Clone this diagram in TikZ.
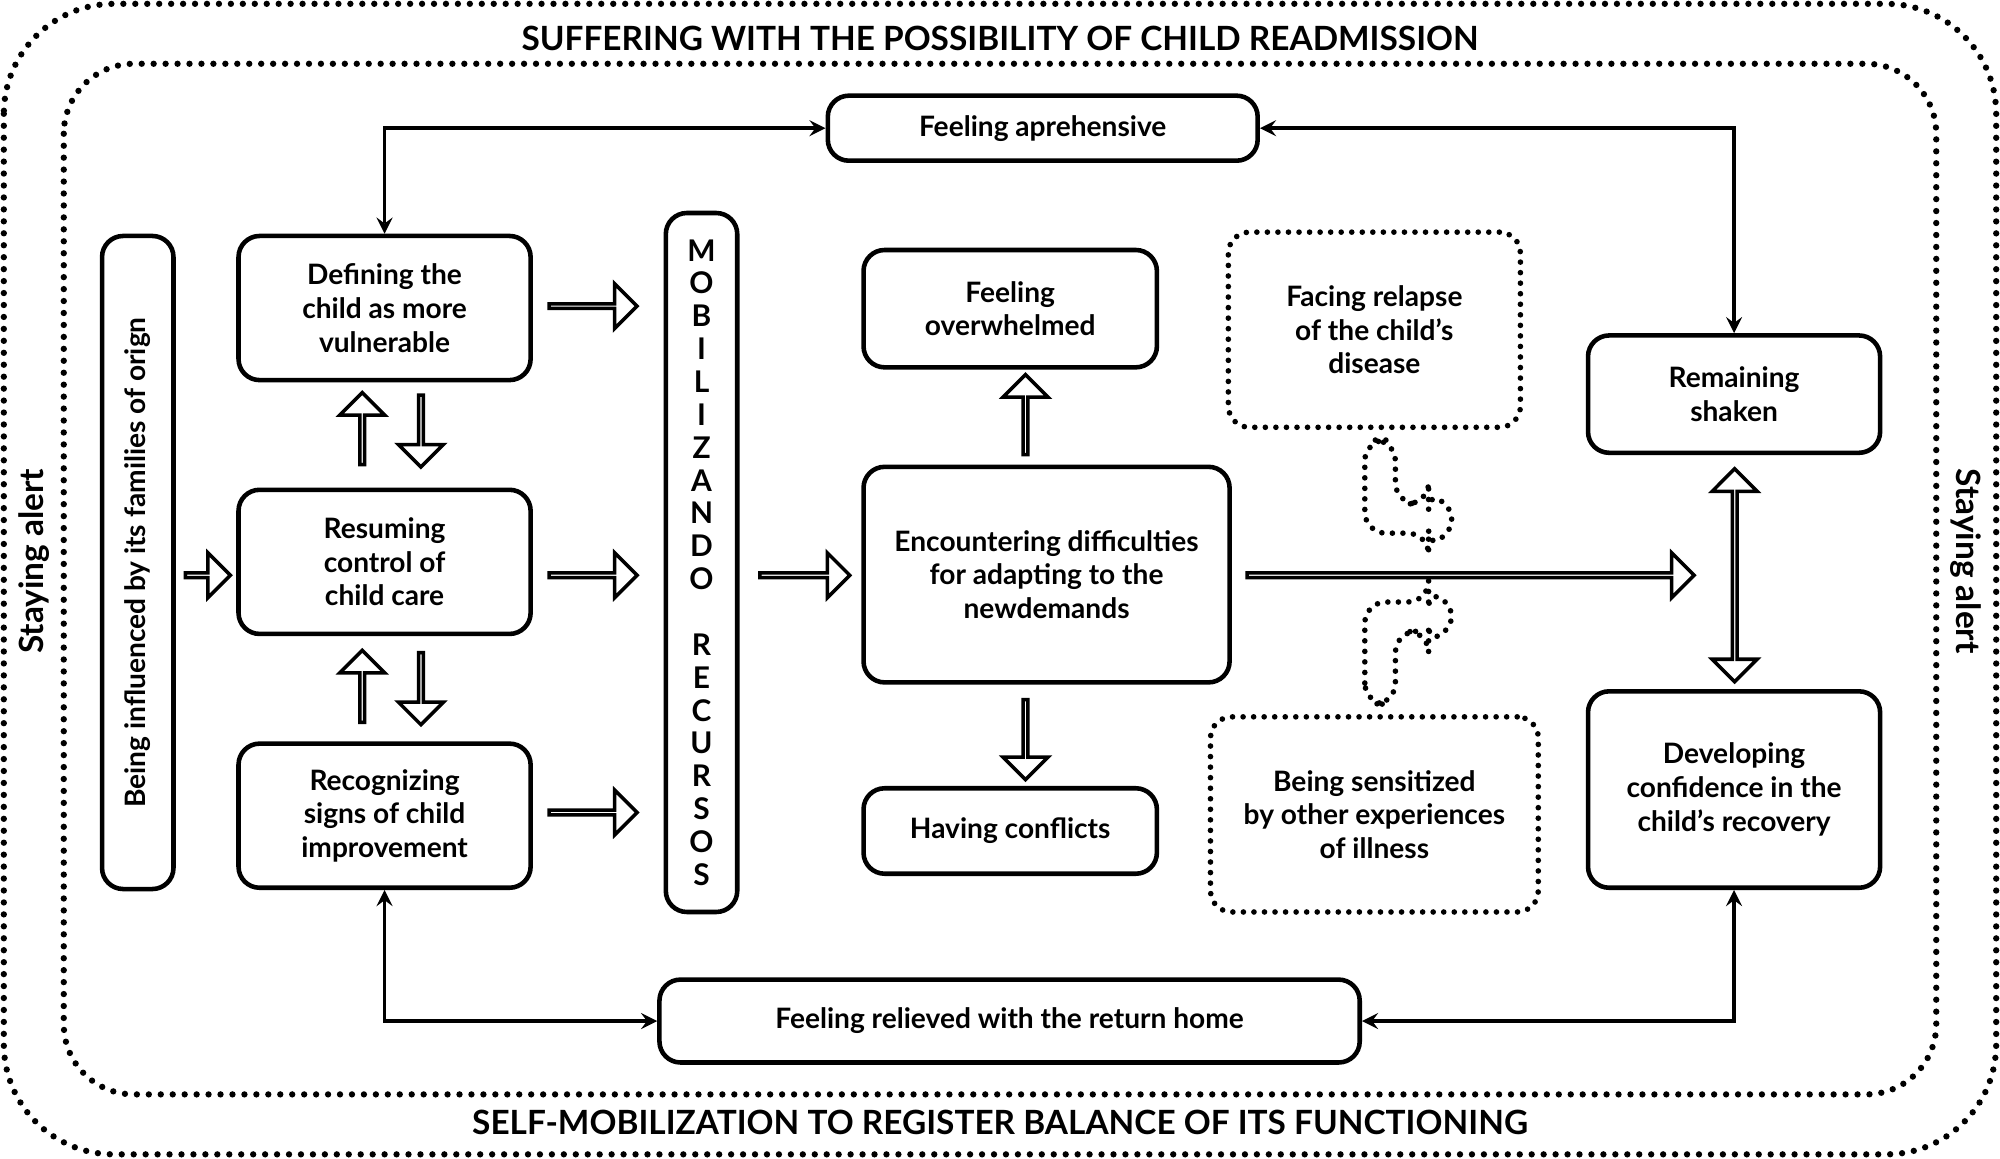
\documentclass[tikz,border=0pt]{standalone}
\usepackage{fontspec}
\setmainfont{Lato}
\usetikzlibrary{shapes.arrows, positioning}

\newcommand{\bx}[7]{\node[#6, minimum width=(#4-#2)*0.012755 cm, minimum height=(#5-#3)*0.012755 cm] (#1) at ({(#2+#4)/2},{(#3+#5)/2}) {#7};}

\begin{document}
\begin{tikzpicture}[
    x=0.012755cm, y=-0.012755cm,
    txt/.style={font=\fontsize{8}{9.6}\selectfont\bfseries, align=center, inner sep=0pt},
    box/.style={txt, rectangle, draw, line width=1.3pt, rounded corners=6pt},
    dbox/.style={txt, rectangle, draw, line width=1.6pt, dash pattern=on 0pt off 3pt, line cap=round, rounded corners=6pt},
    frame/.style={draw, line width=1.8pt, dash pattern=on 0pt off 3.4pt, line cap=round},
    title/.style={font=\fontsize{9.5}{11}\selectfont\bfseries, fill=white, inner sep=2pt},
    blk/.style={single arrow, draw, line width=1pt, single arrow head extend=0.15cm, minimum width=0.45cm, inner sep=0pt},
    dblk/.style={double arrow, draw, line width=1pt, double arrow head extend=0.15cm, minimum width=0.45cm, inner sep=0pt},
    arrow/.style={<->, >=stealth, line width=1pt}
]
\useasboundingbox (0,0) rectangle (1568,908);

% Frames
\draw[frame, rounded corners=1.1cm] (3,3) rectangle (1565,905);
\draw[frame, rounded corners=0.7cm] (50,50) rectangle (1518,858);
\node[title] (top) at (784,30) {SUFFERING WITH THE POSSIBILITY OF CHILD READMISSION};
\node[title] (bottom) at (784,880) {SELF-MOBILIZATION TO REGISTER BALANCE OF ITS FUNCTIONING};
\node[title, rotate=90] (alertl) at (27,440) {Staying alert};
\node[title, rotate=-90] (alertr) at (1541,440) {Staying alert};

% Left column
\bx{origin}{80}{185}{136}{697}{box}{}
\node[txt, rotate=90] (origintxt) at (origin) {Being influenced by its families of orign};
\bx{define}{187}{185}{416}{298}{box}{Defining the\\child as more\\vulnerable}
\bx{resume}{187}{384}{416}{497}{box}{Resuming\\control of\\child care}
\bx{recog}{187}{583}{416}{696}{box}{Recognizing\\signs of child\\improvement}
\bx{mobil}{522}{167}{578}{715}{box, font=\fontsize{8.5}{9.35}\selectfont\bfseries}{M\\O\\B\\I\\L\\I\\Z\\A\\N\\D\\O\\[9.35pt]R\\E\\C\\U\\R\\S\\O\\S}

% Middle
\bx{aprehen}{649}{75}{986}{126}{box}{Feeling aprehensive}
\bx{overwh}{677}{196}{907}{288}{box}{Feeling\\overwhelmed}
\bx{encount}{677}{366}{964}{535}{box}{Encountering difficulties\\for adapting to the\\newdemands}
\bx{conflict}{677}{618}{907}{685}{box}{Having conflicts}
\bx{relapse}{963}{182}{1192}{335}{dbox}{Facing relapse\\of the child's\\disease}
\bx{sensit}{949}{562}{1206}{715}{dbox}{Being sensitized\\by other experiences\\of illness}
\bx{relieved}{517}{768}{1066}{833}{box}{Feeling relieved with the return home}

% Right column
\bx{shaken}{1245}{263}{1474}{355}{box}{Remaining\\shaken}
\bx{confid}{1245}{542}{1474}{696}{box}{Developing\\confidence in the\\child's recovery}

% Block arrows
\node[blk, minimum height=0.45cm] (a0) at (162,451) {};
\foreach \y/\n in {240/a1, 451/a2, 637/a3}
  \node[blk, minimum height=0.88cm] (\n) at (464,\y) {};
\node[blk, minimum height=0.9cm] (a4) at (630,451) {};
\node[blk, minimum height=4.47cm] (a5) at (1152,451) {};
\foreach \y/\n in {337/p, 539/q} {
  \node[blk, rotate=90, minimum height=0.72cm] (\n up) at (284,\y) {};
  \node[blk, rotate=-90, minimum height=0.72cm] (\n dn) at (330,\y) {};
}
\node[blk, rotate=90, minimum height=0.8cm] (upov) at (804,326) {};
\node[blk, rotate=-90, minimum height=0.8cm] (dncf) at (804,579) {};
\node[dblk, rotate=90, minimum height=2.13cm] (dbl) at (1360,451) {};

% Dotted bent arrows
\draw[dbox] (1070,345) -- (1094,345) -- (1094,395) -- (1120,395) -- (1120,383) -- (1145,407) -- (1120,432) -- (1120,418) -- (1070,418) -- cycle;
\draw[dbox] (1070,552) -- (1070,472) -- (1120,472) -- (1120,460) -- (1145,483) -- (1120,507) -- (1120,495) -- (1094,495) -- (1094,552) -- cycle;

% Connectors
\draw[arrow] (define.north) |- (aprehen.west);
\draw[arrow] (aprehen.east) -| (shaken.north);
\draw[arrow] (recog.south) |- (relieved.west);
\draw[arrow] (relieved.east) -| (confid.south);
\end{tikzpicture}
\end{document}
